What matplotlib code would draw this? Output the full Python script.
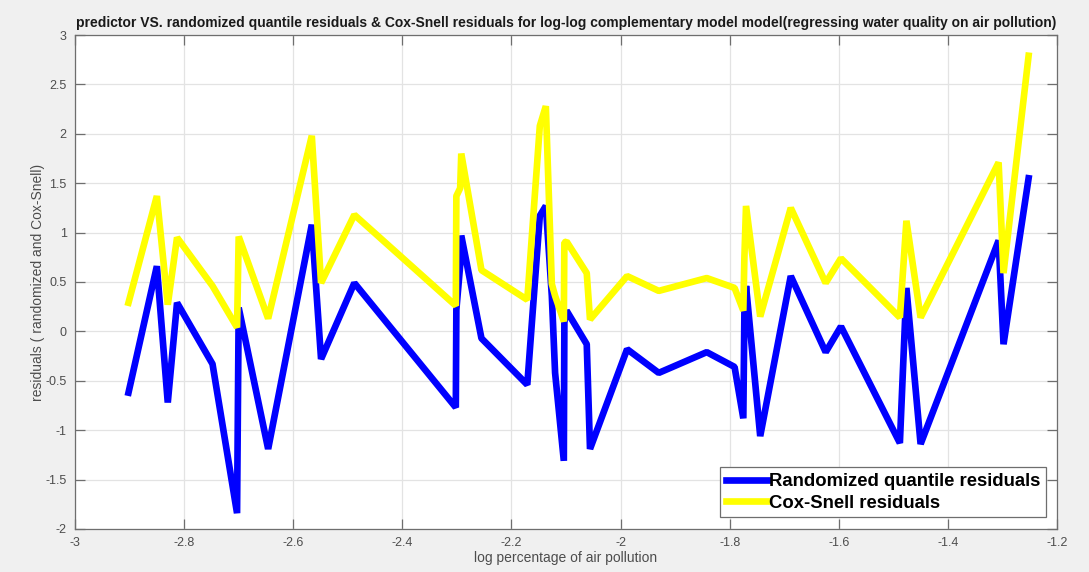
import matplotlib.pyplot as plt

plt.rcParams['font.family'] = ['Liberation Sans', 'DejaVu Sans']

# log percentage of air pollution (shared by both series)
log_pollution = [-2.902, -2.850, -2.830, -2.813, -2.748, -2.703, -2.700, -2.646,
                 -2.566, -2.549, -2.488, -2.302, -2.301, -2.294, -2.292, -2.255,
                 -2.171, -2.148, -2.137, -2.126, -2.120, -2.104, -2.103, -2.099,
                 -2.062, -2.056, -1.988, -1.930, -1.842, -1.791, -1.775, -1.773,
                 -1.770, -1.744, -1.688, -1.624, -1.596, -1.488, -1.476, -1.450,
                 -1.307, -1.298, -1.252]

randomized_quantile = [-0.62, 0.66, -0.72, 0.29, -0.33, -1.84, 0.24, -1.19,
                       1.08, -0.28, 0.49, -0.77, 0.22, 0.67, 0.97, -0.07,
                       -0.54, 1.17, 1.27, 0.36, -0.42, -1.31, 0.09, 0.21,
                       -0.13, -1.19, -0.18, -0.42, -0.21, -0.36, -0.88, 0.19,
                       0.46, -1.06, 0.56, -0.21, 0.05, -1.13, 0.44, -1.14,
                       0.92, -0.13, 1.55]

cox_snell = [0.29, 1.37, 0.27, 0.95, 0.46, 0.04, 0.96, 0.13,
             1.98, 0.49, 1.18, 0.26, 1.37, 1.45, 1.80, 0.62,
             0.32, 2.08, 2.28, 0.48, 0.36, 0.10, 0.90, 0.91,
             0.59, 0.12, 0.56, 0.41, 0.54, 0.44, 0.21, 0.75,
             1.27, 0.15, 1.25, 0.49, 0.74, 0.14, 1.12, 0.14,
             1.71, 0.59, 2.79]

x_ticks = [-3, -2.8, -2.6, -2.4, -2.2, -2, -1.8, -1.6, -1.4, -1.2]
x_tick_labels = ['-3', '-2.8', '-2.6', '-2.4', '-2.2', '-2', '-1.8', '-1.6', '-1.4', '-1.2']
y_ticks = [-2, -1.5, -1, -0.5, 0, 0.5, 1, 1.5, 2, 2.5, 3]
y_tick_labels = ['-2', '-1.5', '-1', '-0.5', '0', '0.5', '1', '1.5', '2', '2.5', '3']

fig = plt.figure(figsize=(10.89, 5.72), dpi=100, facecolor='#f0f0f0')
ax = fig.add_axes([0.0689, 0.0752, 0.9017, 0.8636])
ax.set_facecolor('white')

ax.plot(log_pollution, randomized_quantile, color='#0000ff', linewidth=4.8,
        label='Randomized quantile residuals', solid_joinstyle='bevel')
ax.plot(log_pollution, cox_snell, color='#ffff00', linewidth=4.8,
        label='Cox-Snell residuals', solid_joinstyle='bevel')

ax.set_xlim(-3, -1.2)
ax.set_ylim(-2, 3)
ax.set_xticks(x_ticks)
ax.set_xticklabels(x_tick_labels)
ax.set_yticks(y_ticks)
ax.set_yticklabels(y_tick_labels)

ax.grid(True, color='#e3e3e3', linewidth=0.9)
ax.set_axisbelow(True)
ax.tick_params(direction='in', top=True, right=True, length=7, width=0.9,
               color='#6e6e6e', labelcolor='#4d4d4d', labelsize=9, pad=6)
for spine in ax.spines.values():
    spine.set_color('#6e6e6e')
    spine.set_linewidth(0.9)

ax.set_title('predictor VS. randomized quantile residuals & Cox-Snell residuals for log-log '
             'complementary model model(regressing water quality on air pollution)',
             fontsize=10, fontweight='bold', color='#1a1a1a', pad=6)
ax.set_xlabel('log percentage of air pollution', fontsize=10, color='#4d4d4d', labelpad=1)
ax.set_ylabel('residuals ( randomized and Cox-Snell)', fontsize=10, color='#4d4d4d', labelpad=0)

leg = ax.legend(loc='lower right', bbox_to_anchor=(0.989, 0.024), borderaxespad=0,
                fancybox=False, framealpha=1, edgecolor='#6e6e6e',
                prop={'size': 13.3, 'weight': 'bold'}, handlelength=2.3,
                handletextpad=0.05, borderpad=0.3, labelspacing=0.25)
leg.get_frame().set_linewidth(0.9)

plt.savefig('out.png', dpi=100, facecolor=fig.get_facecolor())
